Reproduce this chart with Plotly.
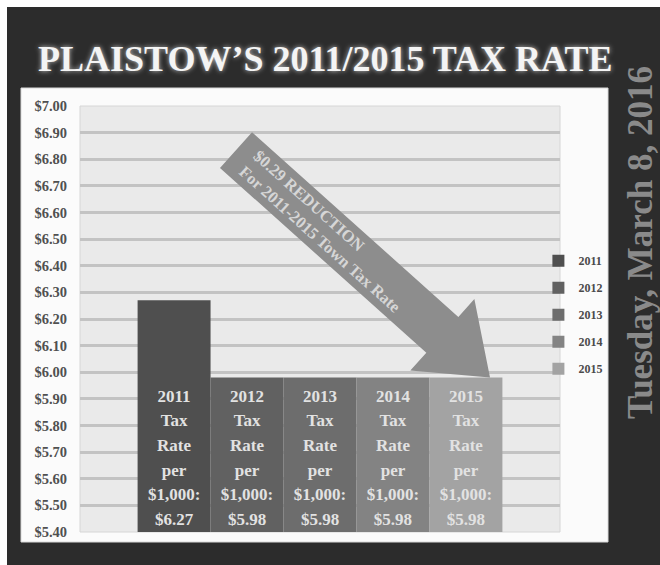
import math
import plotly.graph_objects as go

# Town tax rate per $1,000 of valuation, by year
years = ["2011", "2012", "2013", "2014", "2015"]
rates = [6.27, 5.98, 5.98, 5.98, 5.98]
bar_colors = ["#4f4f4f", "#616161", "#6d6d6d", "#838383", "#a3a3a3"]
category = ["Tax Rate per $1,000"]

title_text = "PLAISTOW\u2019S 2011/2015 TAX RATE"
date_text = "Tuesday, March 8, 2016"
arrow_lines = ["$0.29 REDUCTION", "For 2011-2015 Town Tax Rate"]

y_min, y_max, y_step = 5.40, 7.00, 0.10

# Page geometry (pixels)
W, H = 660, 565
ML, MR, MT, MB = 80, 100, 106, 33
PW, PH = W - ML - MR, H - MT - MB

SERIF = "Liberation Serif, DejaVu Serif, serif"


def to_paper(px, py):
    """Convert page pixel position to paper coordinates."""
    return (px - ML) / PW, (H - MB - py) / PH


def value_to_py(v):
    return MT + (y_max - v) / (y_max - y_min) * PH


fig = go.Figure()

for yr, v, c in zip(years, rates, bar_colors):
    lines = [yr, "Tax", "Rate", "per", "$1,000:", f"${v:.2f}"]
    # larger base size sets the roomy line spacing, the span keeps glyphs smaller
    label = "<br>".join(f"<span style='font-size:17px'>{s}</span>" for s in lines)
    fig.add_trace(go.Bar(
        name=yr,
        x=category,
        y=[v - y_min],
        base=y_min,
        marker=dict(color=c, line=dict(width=0)),
        text=[label],
        textposition="inside",
        insidetextanchor="start",
        textangle=0,
        textfont=dict(family=SERIF, size=19, color="#e2e2e2", weight="bold"),
        legendgroup=yr,
        hovertemplate=f"{yr}: ${v:.2f}<extra></extra>",
    ))

shapes = []

# chalkboard background
x0, y0 = to_paper(7, 7)
x1, y1 = to_paper(W, H)
shapes.append(dict(type="rect", xref="paper", yref="paper", x0=x0, y0=y1, x1=x1, y1=y0,
                   fillcolor="#2c2c2c", line=dict(width=0), layer="below"))
# white chart card
x0, y0 = to_paper(21, 88)
x1, y1 = to_paper(608, 542)
shapes.append(dict(type="rect", xref="paper", yref="paper", x0=x0, y0=y1, x1=x1, y1=y0,
                   fillcolor="#fbfbfb", line=dict(color="#d8d8d8", width=1), layer="below"))
# plot area background
shapes.append(dict(type="rect", xref="paper", yref="paper", x0=0, y0=0, x1=1, y1=1,
                   fillcolor="#eaeaea", line=dict(color="#d6d6d6", width=1), layer="below"))

# downward arrow pointing at the 2015 bar
tail = (236.0, 150.0)
tip = (490.0, value_to_py(rates[-1]))
dx, dy = tip[0] - tail[0], tip[1] - tail[1]
L = math.hypot(dx, dy)
d = (dx / L, dy / L)
n = (-d[1], d[0])
shaft_hw, head_hw, head_len = 24, 48, 64
base = (tip[0] - d[0] * head_len, tip[1] - d[1] * head_len)
pts = [
    (tail[0] + n[0] * shaft_hw, tail[1] + n[1] * shaft_hw),
    (base[0] + n[0] * shaft_hw, base[1] + n[1] * shaft_hw),
    (base[0] + n[0] * head_hw, base[1] + n[1] * head_hw),
    tip,
    (base[0] - n[0] * head_hw, base[1] - n[1] * head_hw),
    (base[0] - n[0] * shaft_hw, base[1] - n[1] * shaft_hw),
    (tail[0] - n[0] * shaft_hw, tail[1] - n[1] * shaft_hw),
]
path = ""
for i, (px, py) in enumerate(pts):
    qx, qy = to_paper(px, py)
    path += ("M" if i == 0 else "L") + f"{qx:.5f},{qy:.5f} "
path += "Z"
shapes.append(dict(type="path", xref="paper", yref="paper", path=path,
                   fillcolor="#8d8d8d", line=dict(width=0), layer="above"))

annotations = []
# title
tx, ty = to_paper(325, 59)
annotations.append(dict(
    x=tx, y=ty, xref="paper", yref="paper", text=title_text, showarrow=False,
    xanchor="center", yanchor="middle",
    font=dict(family=SERIF, size=36, color="#f4f4f4", weight="bold",
              shadow="0px 0px 5px #c8c8c8"),
))
# vertical date
tx, ty = to_paper(640, 243)
annotations.append(dict(
    x=tx, y=ty, xref="paper", yref="paper", text=date_text, showarrow=False,
    textangle=-90, xanchor="center", yanchor="middle",
    font=dict(family=SERIF, size=35, color="#8a8a8a", weight="bold"),
))
# text along the arrow
angle = math.degrees(math.atan2(dy, dx))
along = 122
cx, cy = tail[0] + d[0] * along, tail[1] + d[1] * along
tx, ty = to_paper(cx, cy)
annotations.append(dict(
    x=tx, y=ty, xref="paper", yref="paper", text="<br>".join(arrow_lines),
    showarrow=False, textangle=angle, align="left",
    xanchor="center", yanchor="middle",
    font=dict(family=SERIF, size=16.5, color="#d6d6d6", weight="bold"),
))

fig.update_layout(
    width=W, height=H,
    margin=dict(l=ML, r=MR, t=MT, b=MB),
    paper_bgcolor="#ffffff",
    plot_bgcolor="rgba(0,0,0,0)",
    barmode="group",
    bargap=0.24,
    bargroupgap=0,
    shapes=shapes,
    annotations=annotations,
    showlegend=True,
    legend=dict(
        x=0.955, y=0.51, xanchor="left", yanchor="middle",
        bgcolor="rgba(0,0,0,0)", traceorder="grouped", tracegroupgap=8,
        font=dict(family=SERIF, size=12, color="#4a4a4a", weight="bold"),
        itemwidth=30,
    ),
    xaxis=dict(showticklabels=False, showgrid=False, zeroline=False, ticks=""),
    yaxis=dict(
        range=[y_min, y_max], dtick=y_step, tick0=y_min, tickformat="$.2f",
        showgrid=True, gridcolor="#c3c3c3", gridwidth=2.5, zeroline=False,
        ticks="", ticklabelstandoff=12,
        tickfont=dict(family=SERIF, size=14.5, color="#505050", weight="bold"),
    ),
)

fig.write_html("out.html")
